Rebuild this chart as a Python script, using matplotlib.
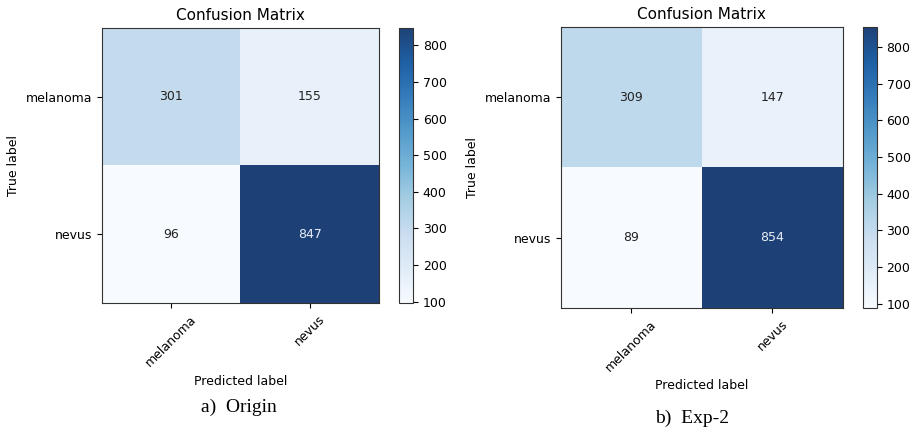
import numpy as np
import matplotlib.pyplot as plt
from matplotlib.colors import ListedColormap

# Class names and confusion matrices
classes = ["melanoma", "nevus"]
cm_origin = np.array([[301, 155],
                      [96, 847]])
cm_exp2 = np.array([[309, 147],
                    [89, 854]])
captions = ["a)  Origin", "b)  Exp-2"]

# Blues, slightly washed out like the scanned figure
base = plt.cm.Blues(np.linspace(0, 1, 256))
base[:, :3] = base[:, :3] * 0.91 + 0.09 * np.array([0.97, 0.97, 0.98])
cmap = ListedColormap(base)


def plot_cm(fig, ax, cax, cm):
    im = ax.imshow(cm, interpolation="nearest", cmap=cmap, aspect="auto")
    ax.set_title("Confusion Matrix", fontsize=11)
    cb = fig.colorbar(im, cax=cax)
    cb.ax.tick_params(labelsize=9)
    cb.outline.set_edgecolor("#333333")
    ticks = np.arange(len(classes))
    ax.set_xticks(ticks)
    ax.set_xticklabels(classes, rotation=45, fontsize=9)
    ax.set_yticks(ticks)
    ax.set_yticklabels(classes, fontsize=9)
    thresh = cm.max() / 2.0
    for i in range(cm.shape[0]):
        for j in range(cm.shape[1]):
            ax.text(j, i, format(cm[i, j], "d"), ha="center", va="center", fontsize=9,
                    color="#e8ecf4" if cm[i, j] > thresh else "#222222")
    ax.set_ylabel("True label", fontsize=9)
    ax.set_xlabel("Predicted label", fontsize=9)
    for s in ax.spines.values():
        s.set_edgecolor("#333333")


fig = plt.figure(figsize=(9.15, 4.33), dpi=100)

ax1 = fig.add_axes([0.1115, 0.300, 0.3027, 0.635])
cax1 = fig.add_axes([0.436, 0.300, 0.0153, 0.635])
plot_cm(fig, ax1, cax1, cm_origin)

ax2 = fig.add_axes([0.613, 0.2887, 0.308, 0.649])
cax2 = fig.add_axes([0.943, 0.2887, 0.0153, 0.649])
plot_cm(fig, ax2, cax2, cm_exp2)

# Figure captions
fig.text(239 / 915, 1 - 407 / 433, captions[0], ha="center", va="center",
         fontsize=14, family="Liberation Serif")
fig.text(692 / 915, 1 - 418 / 433, captions[1], ha="center", va="center",
         fontsize=14, family="Liberation Serif")

fig.savefig("out.png", dpi=100)
